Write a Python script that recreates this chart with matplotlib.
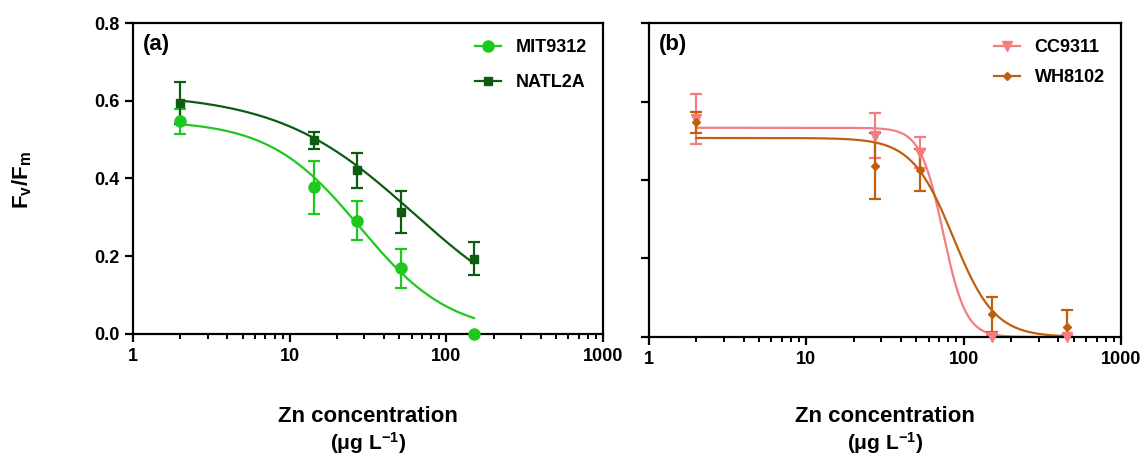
import numpy as np
import matplotlib
matplotlib.use("Agg")
from matplotlib import pyplot as plt

plt.rcParams['font.family'] = ['Liberation Sans', 'DejaVu Sans']
plt.rcParams['font.weight'] = 'bold'
plt.rcParams['mathtext.fontset'] = 'custom'
plt.rcParams['mathtext.rm'] = 'Liberation Sans:bold'
plt.rcParams['mathtext.it'] = 'Liberation Sans:bold'
plt.rcParams['mathtext.bf'] = 'Liberation Sans:bold'

# panel (a)
x_mit = [2, 14.3, 27, 51, 150]
y_mit = [0.547, 0.377, 0.291, 0.169, 0.0]
e_mit = [0.033, 0.068, 0.050, 0.050, 0.0]
x_natl = [2, 14.3, 27, 51, 150]
y_natl = [0.594, 0.498, 0.421, 0.314, 0.194]
e_natl = [0.055, 0.022, 0.045, 0.055, 0.042]

# panel (b)
x_cc = [2, 27.2, 52.7, 152, 453]
y_cc = [0.555, 0.513, 0.470, 0.0, 0.0]
e_cc = [0.064, 0.057, 0.040, 0.005, 0.005]
x_wh = [2, 27.2, 52.7, 152, 453]
y_wh = [0.547, 0.436, 0.425, 0.058, 0.026]
e_wh = [0.027, 0.085, 0.053, 0.045, 0.043]

# dose-response fit parameters: top, bottom, IC50, hill
fit_mit = (0.55, 0.0, 28, 1.5)
fit_natl = (0.62, 0.0, 62, 1.0)
fit_cc = (0.533, 0.0, 74, 6.0)
fit_wh = (0.507, 0.0, 86, 3.3)

c_mit = '#1ec81e'
c_natl = '#0d5c12'
c_cc = '#f47d82'
c_wh = '#c0600f'


def curve(p, x0, x1):
    top, bot, ic50, h = p
    xs = np.logspace(np.log10(x0), np.log10(x1), 300)
    return xs, bot + (top - bot) / (1 + (xs / ic50) ** h)


fig = plt.figure(figsize=(11.43, 4.61), dpi=100)
ax1 = fig.add_axes([0.1164, 0.2755, 0.4112, 0.6746])
ax2 = fig.add_axes([0.5678, 0.2690, 0.4129, 0.6811])


def draw(ax, x, y, e, p, color, marker, label, ms):
    xs, ys = curve(p, x[0], x[-1])
    ax.plot(xs, ys, color=color, lw=1.6)
    ax.errorbar(x, y, yerr=e, fmt='none', ecolor=color, elinewidth=1.6,
                capsize=4.5, capthick=1.6)
    ax.plot(x, y, linestyle='none', marker=marker, color=color, ms=ms,
            clip_on=False, zorder=5)
    ax.plot([], [], color=color, marker=marker, ms=ms, lw=1.6, label=label)


draw(ax1, x_mit, y_mit, e_mit, fit_mit, c_mit, 'o', 'MIT9312', 8)
draw(ax1, x_natl, y_natl, e_natl, fit_natl, c_natl, 's', 'NATL2A', 6)
draw(ax2, x_cc, y_cc, e_cc, fit_cc, c_cc, 'v', 'CC9311', 7)
draw(ax2, x_wh, y_wh, e_wh, fit_wh, c_wh, 'D', 'WH8102', 4.5)

for ax, tag in [(ax1, '(a)'), (ax2, '(b)')]:
    ax.set_xscale('log')
    ax.set_xlim(1, 1000)
    ax.set_ylim(0, 0.8)
    ax.set_yticks([0, 0.2, 0.4, 0.6, 0.8])
    ax.set_xticks([1, 10, 100, 1000])
    ax.set_xticklabels(['1', '10', '100', '1000'])
    for s in ax.spines.values():
        s.set_linewidth(1.6)
    ax.tick_params(axis='both', which='major', direction='out', width=1.6,
                   length=6, labelsize=13, pad=4)
    ax.tick_params(axis='x', which='minor', direction='out', width=1.4,
                   length=3.5)
    ax.text(0.02, 0.93, tag, transform=ax.transAxes, fontsize=16,
            fontweight='bold', va='center', ha='left')

ax1.legend(loc='upper right', frameon=False, fontsize=13, handlelength=1.45,
           borderaxespad=0.5, labelspacing=1.0)
ax2.legend(loc='upper right', frameon=False, fontsize=13, handlelength=1.45,
           borderaxespad=0.5, labelspacing=0.7)

ax1.set_yticklabels(['0.0', '0.2', '0.4', '0.6', '0.8'])
ax2.set_yticklabels([])

for cx in [368 / 1143, 885 / 1143]:
    fig.text(cx, 1 - 416 / 461, 'Zn concentration', fontsize=16,
             fontweight='bold', ha='center', va='center')
    fig.text(cx, 1 - 443 / 461, r'($\mu$g L$^{-1}$)', fontsize=15,
             fontweight='bold', ha='center', va='center')

fig.text(22 / 1143, 1 - 180 / 461, r'F$_v$/F$_m$', fontsize=16,
         fontweight='bold', rotation=90, ha='center', va='center')

fig.savefig('out.png', dpi=100)
